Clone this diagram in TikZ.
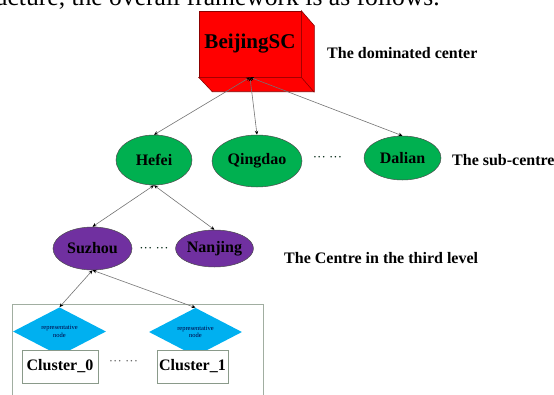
\documentclass[tikz,border=0pt]{standalone}
\usepackage{fontspec}
\setmainfont{Liberation Serif}
\usepackage{tikz}
\usetikzlibrary{arrows.meta,shapes.geometric}
\definecolor{hubred}{HTML}{FF0000}
\definecolor{subgreen}{HTML}{00B050}
\definecolor{thirdpurple}{HTML}{7030A0}
\definecolor{repcyan}{HTML}{00B0F0}
\definecolor{boxgray}{HTML}{8A9A8A}
\tikzset{
  hub/.style={draw=hubred!55!black,fill=hubred,line width=0.6pt,minimum width=102pt,minimum height=66pt,inner sep=0pt,font=\fontsize{21}{24}\selectfont\bfseries},
  centre/.style={ellipse,draw=black!70,line width=0.5pt,inner sep=0pt,font=\fontsize{16}{18}\selectfont\bfseries},
  subcentre/.style={centre,fill=subgreen},
  thirdcentre/.style={centre,fill=thirdpurple},
  repnode/.style={diamond,fill=repcyan,inner sep=0pt,minimum width=93pt,minimum height=37pt,align=center,text=black!75!blue,font=\fontsize{6.5}{7.5}\selectfont},
  clusterbox/.style={draw=boxgray,line width=0.8pt,fill=white,minimum height=33pt,inner sep=0pt,font=\fontsize{16}{18}\selectfont\bfseries},
  link/.style={draw=black!55,line width=0.6pt,{Stealth[length=4pt,width=3.5pt,black]}-{Stealth[length=4pt,width=3.5pt,black]}},
  lbl/.style={anchor=west,inner sep=0pt,font=\fontsize{16}{18}\selectfont\bfseries},
  gap/.style={inner sep=0pt,text=black!70!subgreen!70!black,font=\fontsize{13}{13}\selectfont},
}

\begin{document}
\begin{tikzpicture}[x=1pt,y=-1pt]
  \clip (0,0) rectangle (554,394);
  % line of running text above the figure
  \node[anchor=base east,inner sep=0pt,font=\fontsize{25.6}{28}\selectfont] (intro) at (440,5) {structure, the overall framework is as follows.};
  % dominated center: box with depth
  \node[hub] (bj) at (250,44) {};
  \filldraw[fill=hubred,draw=hubred!55!black,line width=0.6pt]
    (bj.north east) -- ++(13,15) -- ++(0,66) -- ++(-102,0) -- (bj.south west) -- (bj.south east) -- cycle;
  \draw[hubred!55!black,line width=0.6pt] (bj.south east) -- ++(13,15);
  \node[hub,draw=none,fill=none] at (bj) {BeijingSC};
  \node[lbl] (domlbl) at (327,53) {The dominated center};
  % sub-centres
  \node[subcentre,minimum width=76pt,minimum height=50pt] (hefei) at (154,160) {Hefei};
  \node[subcentre,minimum width=90pt,minimum height=52pt] (qingdao) at (257,161) {Qingdao};
  \node[gap] (gapA) at (327.5,159) {··· ···};
  \node[subcentre,minimum width=77pt,minimum height=44pt] (dalian) at (402.5,158) {Dalian};
  \node[lbl] (sublbl) at (452,160) {The sub-centre};
  % third level
  \node[thirdcentre,minimum width=79pt,minimum height=43pt] (suzhou) at (92.5,248.5) {Suzhou};
  \node[gap] (gapB) at (154,250) {··· ···};
  \node[thirdcentre,minimum width=65pt,minimum height=37pt] (nanjing) at (214.5,248.5) {Nanjing};
  \node[lbl] (thirdlbl) at (284,258) {The Centre in the third level};
  % clusters
  \draw[boxgray!80,line width=0.7pt] (12,400) -- (12,304) -- (263,304) -- (263,400);
  \node[repnode] (rep0) at (59.5,331.5) {representative\\node};
  \node[repnode] (rep1) at (195.5,332) {representative\\node};
  \node[clusterbox,minimum width=76pt] (cl0) at (60,366.5) {Cluster\_0};
  \node[gap,text=black!60] (gapC) at (123.5,363) {··· ···};
  \node[clusterbox,minimum width=71pt] (cl1) at (192.5,366.5) {Cluster\_1};
  % links
  \foreach \c in {hefei,qingdao,dalian}
    \draw[link] (bj.south) -- (\c.north);
  \foreach \c in {suzhou,nanjing}
    \draw[link] (hefei.south) -- (\c.north);
  \foreach \c in {rep0,rep1}
    \draw[link] (suzhou.south) -- (\c.north);
\end{tikzpicture}
\end{document}
